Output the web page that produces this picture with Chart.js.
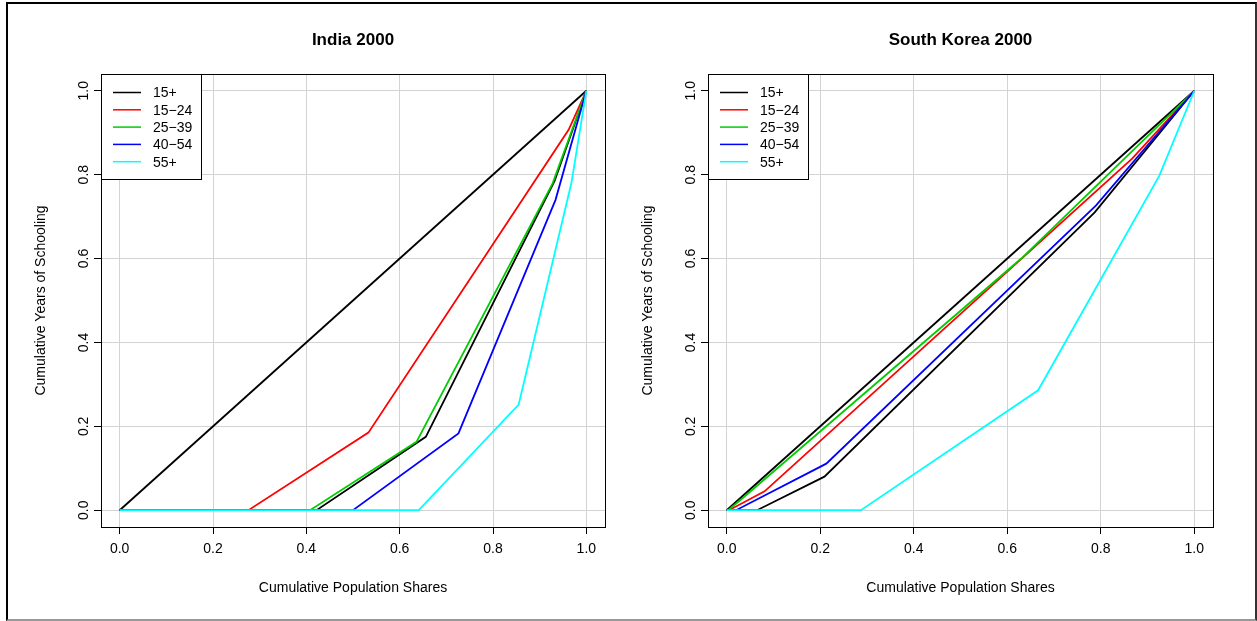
<!DOCTYPE html>
<html><head><meta charset="utf-8">
<script src="https://cdn.jsdelivr.net/npm/chart.js@4.4.0/dist/chart.umd.min.js"></script>
<style>
html,body{margin:0;padding:0;background:#fff;width:1257px;height:621px;overflow:hidden}
#frame{position:absolute;left:6px;top:2px;width:1251px;height:619px;box-sizing:border-box;border-top:2px solid #000;border-left:2px solid #000;border-right:2px solid #333;border-bottom:2px solid #999;pointer-events:none}
canvas{position:absolute;top:0}
#c1{left:0}
#c2{left:620px}
</style></head><body>
<canvas id="c1" width="620" height="621"></canvas>
<canvas id="c2" width="637" height="621"></canvas>
<div id="frame"></div>
<script>
// ---- data ----
const axisTicks = [0, 0.2, 0.4, 0.6, 0.8, 1.0];
const tickLabels = ['0.0', '0.2', '0.4', '0.6', '0.8', '1.0'];
const groups = ['15+', '15\u221224', '25\u221239', '40\u221254', '55+'];
const panelTitles = ['India 2000', 'South Korea 2000'];
const xTitle = 'Cumulative Population Shares';
const yTitle = 'Cumulative Years of Schooling';

const equalX = [0, 1];
const equalY = [0, 1];

const indiaX15 = [0, 0.422, 0.656, 0.932, 1];
const indiaY15 = [0, 0, 0.175, 0.785, 1];
const indiaX1524 = [0, 0.276, 0.533, 0.962, 1];
const indiaY1524 = [0, 0, 0.185, 0.907, 1];
const indiaX2539 = [0, 0.408, 0.636, 0.928, 1];
const indiaY2539 = [0, 0, 0.163, 0.78, 1];
const indiaX4054 = [0, 0.50, 0.726, 0.934, 1];
const indiaY4054 = [0, 0, 0.183, 0.74, 1];
const indiaX55 = [0, 0.641, 0.855, 0.968, 1];
const indiaY55 = [0, 0, 0.252, 0.78, 1];

const koreaX15 = [0, 0.065, 0.209, 0.787, 1];
const koreaY15 = [0, 0, 0.08, 0.71, 1];
const koreaX1524 = [0, 0.005, 0.081, 0.867, 1];
const koreaY1524 = [0, 0, 0.045, 0.838, 1];
const koreaX2539 = [0, 0.003, 0.03, 0.63, 1];
const koreaY2539 = [0, 0, 0.025, 0.60, 1];
const koreaX4054 = [0, 0.02, 0.213, 0.79, 1];
const koreaY4054 = [0, 0, 0.111, 0.727, 1];
const koreaX55 = [0, 0.287, 0.666, 0.925, 1];
const koreaY55 = [0, 0, 0.286, 0.797, 1];

// ---- styles ----
const lineColors = ['#000000', '#ff0000', '#00cd00', '#0000ff', '#00ffff'];
const FONT = '"Liberation Sans", Arial, Helvetica, sans-serif';
Chart.defaults.font.family = FONT;
Chart.defaults.color = '#000';

function toPts(xs, ys) { return xs.map((x, i) => ({x: x, y: ys[i]})); }

const rStyle = {
  id: 'rStyle',
  afterDraw(chart, args, opts) {
    const ctx = chart.ctx, a = chart.chartArea;
    const L = Math.round(a.left), T = Math.round(a.top), R = Math.round(a.right), B = Math.round(a.bottom);
    ctx.save();
    ctx.strokeStyle = '#000'; ctx.lineWidth = 1;
    ctx.strokeRect(L + 0.5, T + 0.5, R - L, B - T);
    ctx.fillStyle = '#000';
    ctx.textAlign = 'center'; ctx.textBaseline = 'middle';
    const cx = (L + R) / 2;
    ctx.font = 'bold 17px ' + FONT;
    ctx.fillText(opts.title, cx, T - 34);
    ctx.font = '14px ' + FONT;
    ctx.fillText(xTitle, cx, B + 61);
    ctx.save();
    ctx.translate(L - 60, (T + B) / 2);
    ctx.rotate(-Math.PI / 2);
    ctx.fillText(yTitle, 0, 0);
    ctx.restore();
    // legend
    const lw = 100, lh = 105;
    ctx.fillStyle = '#fff';
    ctx.fillRect(L + 1, T + 1, lw - 1, lh - 1);
    ctx.strokeStyle = '#000';
    ctx.strokeRect(L + 0.5, T + 0.5, lw, lh);
    ctx.textAlign = 'left';
    ctx.font = '14px ' + FONT;
    groups.forEach((g, i) => {
      const y = T + 18.5 + i * 17.3;
      ctx.strokeStyle = lineColors[i]; ctx.lineWidth = 1.5;
      ctx.beginPath(); ctx.moveTo(L + 12, y); ctx.lineTo(L + 40, y); ctx.stroke();
      ctx.fillStyle = '#000';
      ctx.fillText(g, L + 52, y + 1);
    });
    ctx.restore();
  }
};

function makeChart(id, title, seriesX, seriesY, padLeft, padRight) {
  const n = seriesX.length;
  const datasets = [{
    label: 'equality', data: toPts(equalX, equalY), borderColor: '#000', order: n + 1
  }].concat(seriesX.map((xs, i) => ({
    label: groups[i], data: toPts(xs, seriesY[i]), borderColor: lineColors[i], order: n - i
  })));
  datasets.forEach(d => { d.borderWidth = 1.8; d.pointRadius = 0; d.tension = 0; d.fill = false; });
  const scaleBase = () => ({
    type: 'linear', min: -0.04, max: 1.04,
    afterBuildTicks: s => { s.ticks = axisTicks.map(v => ({value: v})); },
    grid: {color: '#d3d3d3', lineWidth: 1, tickColor: '#000', tickLength: 7, drawTicks: true},
    border: {display: false},
    ticks: {font: {size: 14}, color: '#000', callback: (v, i) => tickLabels[i]}
  });
  const xs = scaleBase();
  xs.position = 'bottom';
  xs.ticks.padding = 7;
  xs.ticks.maxRotation = 0;
  xs.afterFit = s => { s.height = 30; };
  const ys = scaleBase();
  ys.position = 'left';
  ys.ticks.minRotation = 90; ys.ticks.maxRotation = 90;
  ys.ticks.crossAlign = 'center';
  ys.ticks.padding = 0;
  ys.afterFit = s => { s.width = 40; };
  return new Chart(document.getElementById(id), {
    type: 'line',
    data: {datasets: datasets},
    options: {
      responsive: false, animation: false, devicePixelRatio: 1,
      layout: {padding: {left: padLeft, right: padRight, top: 74, bottom: 64}},
      plugins: {legend: {display: false}, tooltip: {enabled: false}, title: {display: false}, rStyle: {title: title}},
      scales: {x: xs, y: ys}
    },
    plugins: [rStyle]
  });
}

makeChart('c1', panelTitles[0],
  [indiaX15, indiaX1524, indiaX2539, indiaX4054, indiaX55],
  [indiaY15, indiaY1524, indiaY2539, indiaY4054, indiaY55], 61, 15);
makeChart('c2', panelTitles[1],
  [koreaX15, koreaX1524, koreaX2539, koreaX4054, koreaX55],
  [koreaY15, koreaY1524, koreaY2539, koreaY4054, koreaY55], 48, 44);
</script>
</body></html>
